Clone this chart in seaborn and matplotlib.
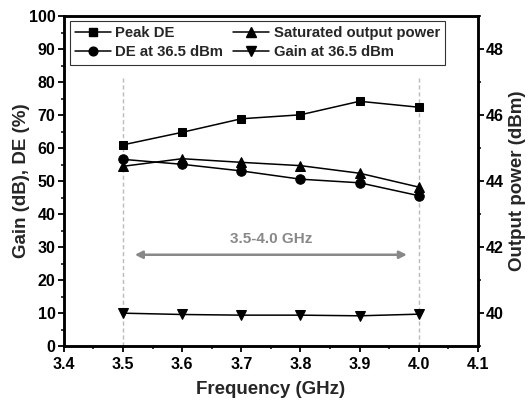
import matplotlib
matplotlib.use("Agg")
import matplotlib.pyplot as plt
import seaborn as sns
import pandas as pd
from matplotlib.ticker import MultipleLocator
from matplotlib.lines import Line2D

freq = [3.5, 3.6, 3.7, 3.8, 3.9, 4.0]
peak_de = [61.0, 64.8, 68.9, 70.1, 74.2, 72.4]
de_365 = [56.6, 55.1, 53.1, 50.6, 49.5, 45.6]
gain_365 = [10.0, 9.6, 9.4, 9.4, 9.2, 9.7]
sat_pout = [44.45, 44.68, 44.57, 44.47, 44.24, 43.82]

x_ticks = [3.4, 3.5, 3.6, 3.7, 3.8, 3.9, 4.0, 4.1]
band_label = "3.5-4.0 GHz"

sns.set_theme(style="ticks")
plt.rcParams['font.family'] = ['Liberation Sans', 'DejaVu Sans']
plt.rcParams['font.weight'] = 'bold'
plt.rcParams['axes.labelweight'] = 'bold'

fig = plt.figure(figsize=(5.28, 4.03), dpi=100)
ax = fig.add_axes([0.121, 0.141, 0.784, 0.819])
ax2 = ax.twinx()

df = pd.DataFrame({"f": freq, "peak": peak_de, "de": de_365, "gain": gain_365, "sat": sat_pout})

lw = 1.1
ms = 6.3
# band markers
for xv in [freq[0], freq[-1]]:
    ax.plot([xv, xv], [0, 82], color="#bbbbbb", lw=1.0, ls=(0, (3, 2)), zorder=1)

sns.lineplot(data=df, x="f", y="peak", ax=ax, color="black", lw=lw, marker="s", markersize=ms,
             markeredgecolor="black", legend=False)
sns.lineplot(data=df, x="f", y="de", ax=ax, color="black", lw=lw, marker="o", markersize=ms + 0.5,
             markeredgecolor="black", legend=False)
sns.lineplot(data=df, x="f", y="gain", ax=ax, color="black", lw=lw, marker="v", markersize=ms + 1.5,
             markeredgecolor="black", legend=False)
sns.lineplot(data=df, x="f", y="sat", ax=ax2, color="black", lw=lw, marker="^", markersize=ms + 1.5,
             markeredgecolor="black", legend=False)

ax.set_xlim(3.4, 4.1)
ax.set_ylim(0, 100)
ax2.set_ylim(39, 49)
ax.set_xticks(x_ticks)
ax.set_xticklabels([f"{v:.1f}" for v in x_ticks])
ax.xaxis.set_minor_locator(MultipleLocator(0.05))
ax.yaxis.set_major_locator(MultipleLocator(10))
ax.yaxis.set_minor_locator(MultipleLocator(5))
ax2.set_yticks([40, 42, 44, 46, 48])
ax2.yaxis.set_minor_locator(MultipleLocator(1))

ax.set_xlabel("Frequency (GHz)", fontsize=13.5, fontweight="bold", labelpad=6)
ax.set_ylabel("Gain (dB), DE (%)", fontsize=13.5, fontweight="bold", labelpad=-1)
ax2.set_ylabel("Output power (dBm)", fontsize=13.5, fontweight="bold", labelpad=3.5)

for a in (ax, ax2):
    for s in a.spines.values():
        s.set_linewidth(1.8)
        s.set_color("black")
    a.tick_params(which="major", direction="out", length=4, width=1.3, labelsize=11.5,
                  colors="black", pad=2)
    a.tick_params(which="minor", direction="out", length=2.5, width=1.1, colors="black")
    for lab in a.get_xticklabels() + a.get_yticklabels():
        lab.set_fontweight("bold")
ax.tick_params(axis="x", which="major", pad=4)

# band arrow
ax.annotate("", xy=(3.52, 27.7), xytext=(3.98, 27.7),
            arrowprops=dict(arrowstyle="<|-|>", color="#888888", lw=1.8,
                            mutation_scale=11, shrinkA=0, shrinkB=0))
ax.text(3.75, 30.5, band_label, color="#888888", fontsize=11, fontweight="bold",
        ha="center", va="bottom")

handles = [
    Line2D([], [], color="black", lw=lw, marker="s", markersize=ms - 0.5),
    Line2D([], [], color="black", lw=lw, marker="o", markersize=ms),
    Line2D([], [], color="black", lw=lw, marker="^", markersize=ms + 0.5),
    Line2D([], [], color="black", lw=lw, marker="v", markersize=ms + 0.5),
]
labels = ["Peak DE", "DE at 36.5 dBm", "Saturated output power", "Gain at 36.5 dBm"]
leg = ax.legend(handles, labels, ncol=2, loc="upper left", bbox_to_anchor=(0.0145, 0.985),
                frameon=True, fancybox=False, edgecolor="black",
                handlelength=2.4, handletextpad=0.3, columnspacing=0.7,
                borderpad=0.35, labelspacing=0.35, borderaxespad=0,
                prop={"weight": "bold", "size": 10.7})
leg.get_frame().set_linewidth(0.8)
leg.set_zorder(5)

fig.savefig("out.png", dpi=100)
